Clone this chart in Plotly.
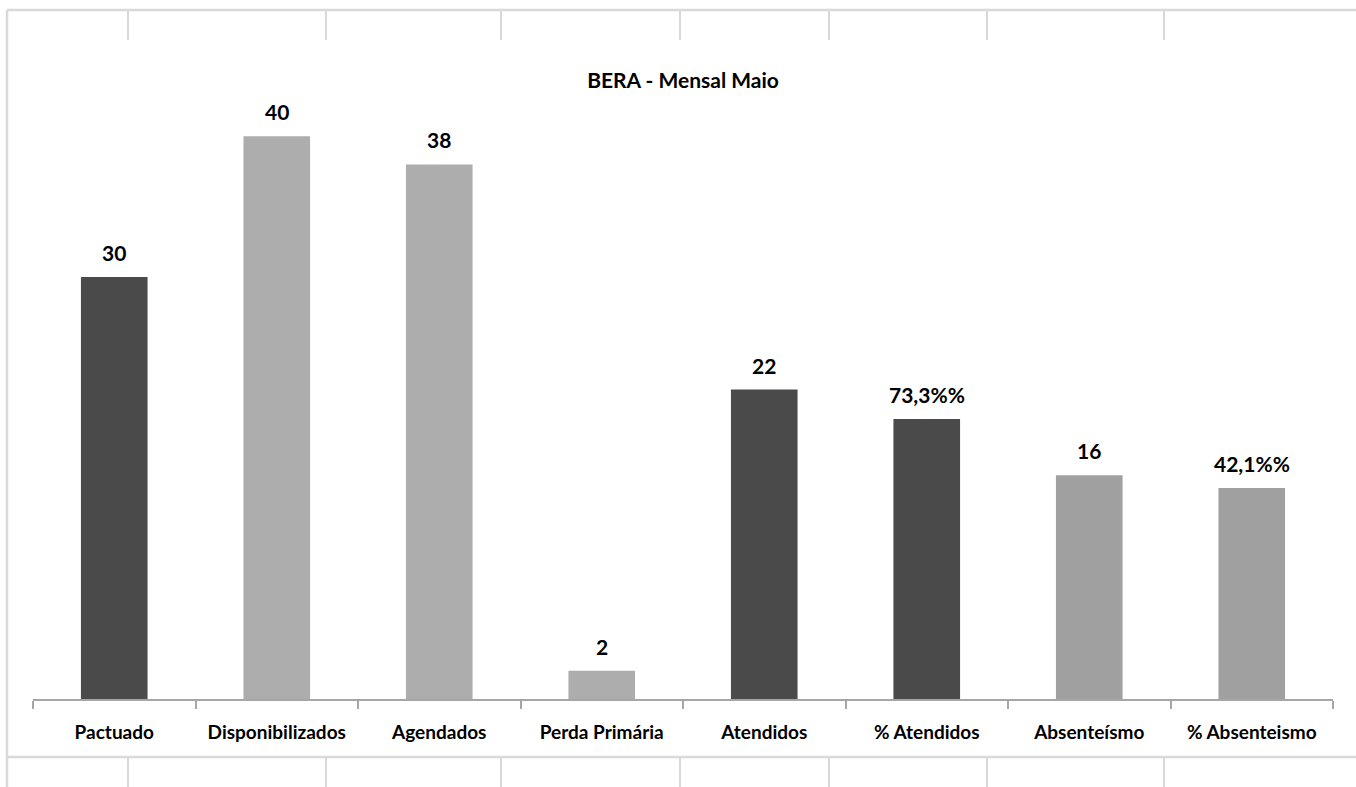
import plotly.graph_objects as go

categories = ["Pactuado", "Disponibilizados", "Agendados", "Perda Primária",
              "Atendidos", "% Atendidos", "Absenteísmo", "% Absenteismo"]
bar_heights = [30, 40, 38, 2, 22, 19.9, 15.9, 15.0]
value_labels = ["30", "40", "38", "2", "22", "73,3%%", "16", "42,1%%"]
bar_colors = ["#4a4a4a", "#adadad", "#adadad", "#adadad",
              "#4a4a4a", "#4a4a4a", "#a0a0a0", "#a0a0a0"]
title_text = "BERA - Mensal Maio"

W, H = 1356, 787
L, R, T, B = 33, 23, 66, 88
PW, PH = W - L - R, H - T - B
FONT = "Lato"

fig = go.Figure()
fig.add_trace(go.Bar(
    x=categories, y=bar_heights,
    marker=dict(color=bar_colors, line=dict(width=0)),
    width=0.41, hoverinfo="skip", showlegend=False,
))

for c, v, t in zip(categories, bar_heights, value_labels):
    fig.add_annotation(x=c, y=v, text=f"<b>{t}</b>", showarrow=False,
                       yanchor="bottom", yshift=10,
                       font=dict(family=FONT, size=21, color="#000000"))

# spreadsheet-like background grid (decorative, pixel positions -> paper)
grid = "#d9d9d9"
def px_x(p):
    return (p - L) / PW
def px_y(p):
    return (H - B - p) / PH
shapes = []
def seg(x0, y0, x1, y1, w):
    shapes.append(dict(type="line", xref="paper", yref="paper", layer="below",
                       x0=px_x(x0), x1=px_x(x1), y0=px_y(y0), y1=px_y(y1),
                       line=dict(color=grid, width=w)))
seg(7, 10, W, 10, 2.5)
seg(7, 757, W, 757, 2.5)
seg(7, 10, 7, H, 2.5)
for gx in [128, 326, 501, 680, 829, 987, 1164]:
    seg(gx, 10, gx, 40, 2)
    seg(gx, 757, gx, H, 2)

fig.update_layout(
    width=W, height=H,
    margin=dict(l=L, r=R, t=T, b=B),
    paper_bgcolor="white", plot_bgcolor="white",
    shapes=shapes,
    title=dict(text=f"<b>{title_text}</b>", x=683 / W, xanchor="center",
               y=1 - 81 / H, yanchor="middle",
               font=dict(family=FONT, size=21, color="#000000")),
    xaxis=dict(type="category", tickson="boundaries", ticks="outside",
               ticklen=8, tickcolor="#a6a6a6", tickwidth=1.5,
               showline=True, linecolor="#a6a6a6", linewidth=1.5,
               showgrid=False, zeroline=False,
               tickfont=dict(family=FONT, size=19, color="#000000"),
               ticklabelstandoff=15),
    yaxis=dict(range=[0, 45], visible=False, showgrid=False, zeroline=False),
)
fig.update_xaxes(tickvals=categories, ticktext=[f"<b>{c}</b>" for c in categories])

fig.write_html("out.html", config={"displayModeBar": False},
               post_script="document.body.style.margin='0';")
